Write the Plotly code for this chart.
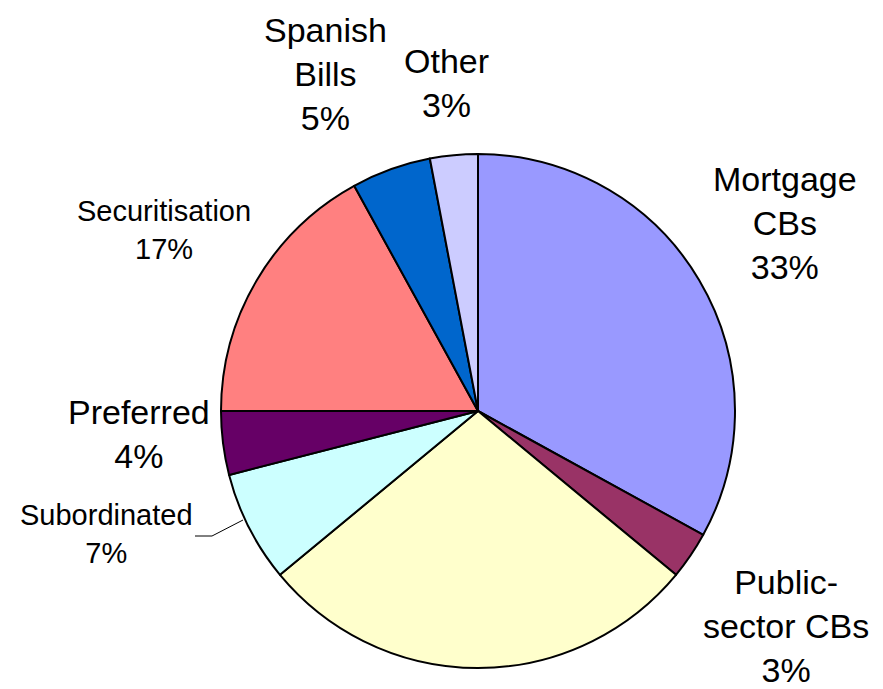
import plotly.graph_objects as go

# Issuance breakdown by instrument type (share of total, %)
categories = ["Mortgage CBs", "Public-sector CBs", "Senior debt", "Subordinated",
              "Preferred", "Securitisation", "Spanish Bills", "Other"]
shares = [33, 3, 28, 7, 4, 17, 5, 3]
colors = ["#9999FF", "#993366", "#FFFFCC", "#CCFFFF",
          "#660066", "#FF8080", "#0066CC", "#CCCCFF"]

# Label text as printed next to each slice (None = slice left unlabelled)
label_text = {
    "Mortgage CBs": "Mortgage<br>CBs",
    "Public-sector CBs": "Public-<br>sector CBs",
    "Senior debt": None,
    "Subordinated": "Subordinated",
    "Preferred": "Preferred",
    "Securitisation": "Securitisation",
    "Spanish Bills": "Spanish<br>Bills",
    "Other": "Other",
}

W, H = 883, 689
CX, CY, R = 478, 411, 257  # pie centre and radius in pixels

# Label placement (pixel centre of each text block) and font size
label_layout = {
    "Mortgage CBs": (785, 223, 34),
    "Public-sector CBs": (786, 626, 34),
    "Subordinated": (106, 534, 29),
    "Preferred": (139, 434, 34),
    "Securitisation": (164, 230, 29),
    "Spanish Bills": (325, 74, 34),
    "Other": (446, 83, 34),
}

FONT = "Arial, Liberation Sans, sans-serif"

fig = go.Figure(go.Pie(
    labels=categories,
    values=shares,
    marker=dict(colors=colors, line=dict(color="black", width=2)),
    sort=False,
    direction="clockwise",
    rotation=0,
    textinfo="none",
    hoverinfo="label+percent",
    showlegend=False,
    domain=dict(x=[(CX - R) / W, (CX + R) / W],
                y=[(H - CY - R) / H, (H - CY + R) / H]),
))

total = sum(shares)
annotations = []
for name, val in zip(categories, shares):
    txt = label_text[name]
    if txt is None:
        continue
    px, py, fs = label_layout[name]
    pct = round(val / total * 100)
    annotations.append(dict(
        x=px / W, y=1 - py / H, xref="paper", yref="paper",
        text=f"{txt}<br>{pct}%", showarrow=False,
        xanchor="center", yanchor="middle", align="center",
        font=dict(family=FONT, size=fs, color="black"),
    ))

# Leader line from the Subordinated label to its slice
leader = [(195, 536), (212, 536), (243, 520)]
path = "M " + " L ".join(f"{x / W},{1 - y / H}" for x, y in leader)
fig.add_shape(type="path", path=path, xref="paper", yref="paper",
              line=dict(color="black", width=1))

fig.update_layout(
    width=W, height=H,
    margin=dict(l=0, r=0, t=0, b=0),
    paper_bgcolor="white", plot_bgcolor="white",
    annotations=annotations,
)

fig.write_html("out.html")
